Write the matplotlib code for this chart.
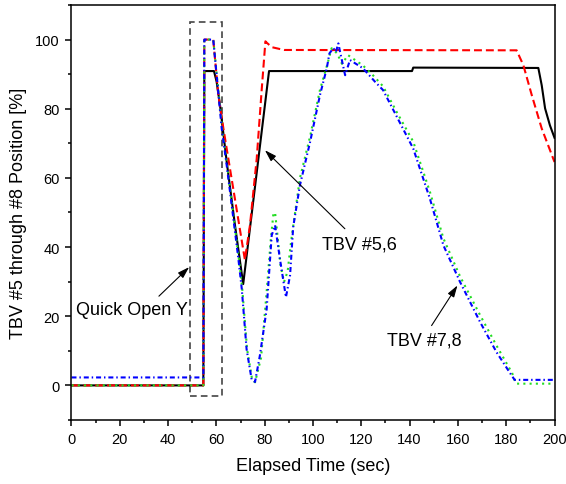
import matplotlib
matplotlib.use('Agg')
import matplotlib.pyplot as plt
from matplotlib.patches import Rectangle

plt.rcParams['font.family'] = ['Liberation Sans', 'DejaVu Sans']

# TBV #5,6 (black, solid)
t_black = [0, 54.6, 55.0, 59.0, 60.1, 61.5, 64.3, 67.7, 71.1, 77.4, 81.8,
           141.0, 141.5, 193.3, 194.7, 196.1, 198.1, 200]
y_black = [0, 0, 90.9, 90.9, 87.8, 81.0, 64.5, 46.3, 29.3, 65.6, 90.9,
           90.9, 91.9, 91.8, 86.8, 80.1, 75.2, 71.6]

# TBV #5,6 demand (red, dashed)
t_red = [0, 54.6, 55.0, 58.7, 60.8, 62.9, 66.3, 71.8, 73.9, 76.7, 78.8, 80.3,
         81.0, 83.0, 88.0, 184.3, 187.1, 190.6, 194.7, 200]
y_red = [0, 0, 100, 100, 84.0, 74.3, 59.8, 36.3, 46.3, 65.6, 85.9, 99.5,
         99.0, 97.8, 97.0, 96.9, 92.6, 83.9, 74.3, 64.6]

# TBV #7,8 (blue, dash-dot)
t_blue = [0, 54.6, 55.0, 58.7, 62.2, 64.3, 69.1, 70.5, 72.5, 74.6, 76.0, 78.0,
          80.8, 82.9, 84.3, 86.3, 88.8, 90.5, 91.8, 94.6, 98.8, 102.9, 105.7,
          106.8, 108.4, 109.5, 110.5, 111.2, 113.3, 115.3, 120.7, 125.7, 129.0,
          134.7, 141.5, 148.4, 154.0, 160.9, 169.2, 176.0, 182.3, 183.5, 200]
y_blue = [2.3, 2.3, 100, 100, 74.3, 63.5, 36.6, 28.0, 10.5, 1.7, 1.0, 8.6,
          22.0, 43.4, 46.3, 36.6, 25.5, 31.8, 45.8, 57.9, 70.4, 84.0, 91.7,
          96.0, 97.5, 96.5, 98.9, 96.5, 89.7, 94.1, 91.7, 87.8, 85.4,
          77.7, 68.5, 54.0, 40.5, 29.9, 18.3, 9.6, 2.8, 1.6, 1.6]

# TBV #7,8 demand (green, dotted)
t_green = [0, 54.6, 55.0, 58.7, 62.4, 64.5, 69.3, 70.7, 72.7, 74.8, 76.0,
           78.5, 80.8, 82.5, 83.6, 84.3, 85.5, 86.5, 88.0, 89.5, 91.0, 94.6,
           98.8, 102.9, 106.0, 107.7, 110.0, 112.0, 114.5, 120.7, 124.8, 129.0,
           134.7, 141.5, 148.4, 154.0, 160.9, 169.2, 176.0, 182.5, 184.0, 200]
y_green = [0, 0, 100, 100, 74.3, 63.5, 36.6, 28.0, 10.5, 1.7, 0.9,
           8.0, 27.0, 42.0, 49.6, 50.0, 42.0, 35.0, 29.9, 33.0, 42.0, 60.0,
           72.0, 85.5, 93.0, 97.5, 96.0, 93.0, 95.5, 92.5, 89.7, 86.5,
           79.0, 70.5, 56.0, 42.5, 31.5, 20.3, 11.5, 3.5, 0.5, 0.5]

x_ticks = [0, 20, 40, 60, 80, 100, 120, 140, 160, 180, 200]
y_ticks = [0, 20, 40, 60, 80, 100]

fig = plt.figure(figsize=(5.66, 4.85), dpi=100)
ax = fig.add_axes([0.1263, 0.132, 0.8534, 0.8556])

ax.plot(t_black, y_black, color='black', lw=1.5)
ax.plot(t_red, y_red, color='red', lw=1.5, dashes=(3.8, 1.9))
ax.plot(t_green, y_green, color='#22dd22', lw=1.5, dashes=(1.0, 2.0))
ax.plot(t_blue, y_blue, color='blue', lw=1.5, dashes=(2.4, 1.4, 0.7, 1.4))

# dashed box round the quick opening
ax.add_patch(Rectangle((49.1, -3.2), 62.4 - 49.1, 105 - (-3.2), fill=False,
                       edgecolor='#444444', lw=1.2, linestyle=(0, (4, 2.5))))

arr = dict(arrowstyle='-|>,head_length=0.7,head_width=0.22', color='black',
           lw=0.8, shrinkA=0, shrinkB=0)
ax.annotate('', xy=(80.1, 68), xytext=(113.2, 45.3), arrowprops=arr)
ax.text(103.6, 41, 'TBV #5,6', fontsize=13, ha='left', va='center')
ax.annotate('', xy=(159.8, 28.9), xytext=(149.1, 17.3), arrowprops=arr)
ax.text(130.8, 13.0, 'TBV #7,8', fontsize=13, ha='left', va='center')
ax.annotate('', xy=(48.7, 34.2), xytext=(36.2, 25.8), arrowprops=arr)
ax.text(1.9, 21.9, 'Quick Open Y', fontsize=13, ha='left', va='center')

ax.set_xlim(0, 200)
ax.set_ylim(-10, 110)
ax.set_xticks(x_ticks)
ax.set_yticks(y_ticks)
ax.set_xticks(range(10, 200, 20), minor=True)
ax.set_yticks(range(-10, 111, 20), minor=True)
ax.tick_params(which='major', direction='out', length=4.5, width=1.1,
               labelsize=10.5, pad=4)
ax.tick_params(which='minor', direction='out', length=2.5, width=1.1)
for s in ax.spines.values():
    s.set_linewidth(1.1)

ax.set_xlabel('Elapsed Time (sec)', fontsize=13, labelpad=8)
ax.set_ylabel('TBV #5 through #8 Position [%]', fontsize=13, labelpad=6)

fig.savefig('out.png', dpi=100)
